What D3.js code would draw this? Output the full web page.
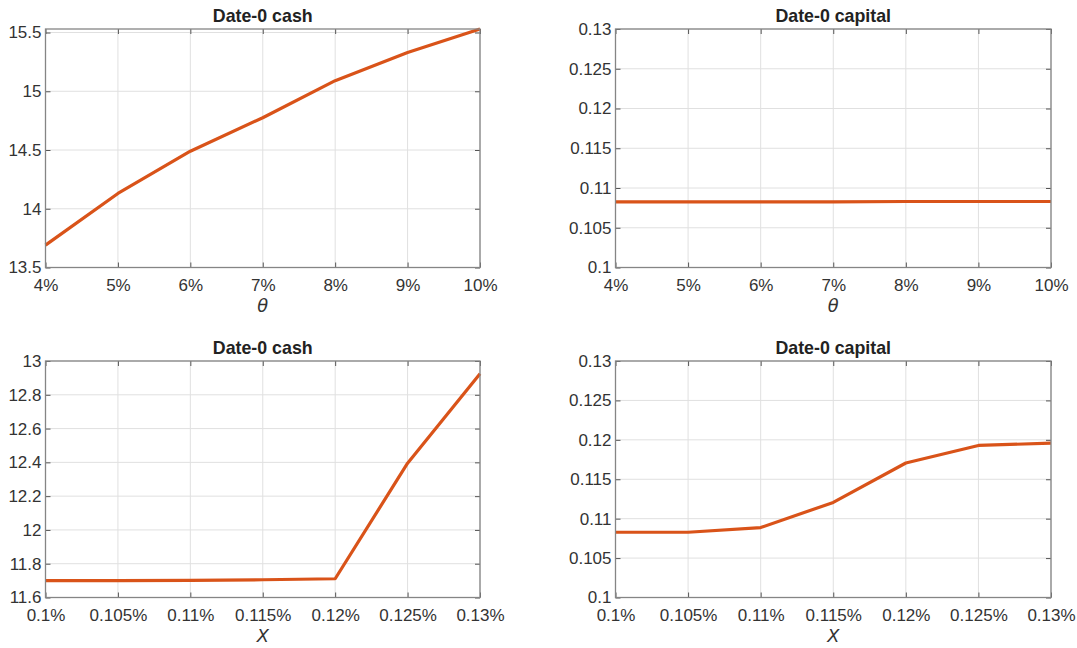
<!DOCTYPE html>
<html>
<head>
<meta charset="utf-8">
<script src="https://cdn.jsdelivr.net/npm/d3@7"></script>
<style>
  body { margin: 0; background: #ffffff; }
  svg { display: block; font-family: "Liberation Sans", Arial, Helvetica, sans-serif; }
</style>
</head>
<body>
<svg id="chart" width="1077" height="648"></svg>
<script>
// Sensitivity of date-0 cash and capital to theta and X
const thetaValues = [0.04, 0.05, 0.06, 0.07, 0.08, 0.09, 0.10];
const thetaTickLabels = ["4%", "5%", "6%", "7%", "8%", "9%", "10%"];
const xValues = [0.100, 0.105, 0.110, 0.115, 0.120, 0.125, 0.130];
const xTickLabels = ["0.1%", "0.105%", "0.11%", "0.115%", "0.12%", "0.125%", "0.13%"];

const cashVsTheta = [13.69, 14.13, 14.49, 14.775, 15.09, 15.33, 15.53];
const capitalVsTheta = [0.10825, 0.10825, 0.10825, 0.10825, 0.1083, 0.1083, 0.1083];
const cashVsX = [11.700, 11.700, 11.701, 11.705, 11.711, 12.395, 12.925];
const capitalVsX = [0.10828, 0.10828, 0.10887, 0.11206, 0.11706, 0.11929, 0.11958];

const cashThetaTicks = [13.5, 14, 14.5, 15, 15.5];
const capitalTicks = [0.1, 0.105, 0.11, 0.115, 0.12, 0.125, 0.13];
const cashXTicks = [11.6, 11.8, 12, 12.2, 12.4, 12.6, 12.8, 13];

const panels = [
  { title: "Date-0 cash", xLabel: "θ", xs: thetaValues, xTickText: thetaTickLabels,
    ys: cashVsTheta, yDomain: [13.5, 15.53], yTicks: cashThetaTicks,
    box: { left: 45.5, right: 480, top: 29, bottom: 267.5 } },
  { title: "Date-0 capital", xLabel: "θ", xs: thetaValues, xTickText: thetaTickLabels,
    ys: capitalVsTheta, yDomain: [0.1, 0.13], yTicks: capitalTicks,
    box: { left: 615.5, right: 1051, top: 29, bottom: 267.5 } },
  { title: "Date-0 cash", xLabel: "X", xs: xValues, xTickText: xTickLabels,
    ys: cashVsX, yDomain: [11.6, 13], yTicks: cashXTicks,
    box: { left: 45.5, right: 480, top: 361, bottom: 597.5 } },
  { title: "Date-0 capital", xLabel: "X", xs: xValues, xTickText: xTickLabels,
    ys: capitalVsX, yDomain: [0.1, 0.13], yTicks: capitalTicks,
    box: { left: 615.5, right: 1051, top: 361, bottom: 597.5 } }
];

const svg = d3.select("#chart");
const axisColor = "#858585";
const gridColor = "#e0e0e0";
const textColor = "#333333";
const lineColor = "#d95319";
const tickLen = 5;
const tickFont = 17;
const titleFont = 17.8;

panels.forEach(p => {
  const b = p.box;
  const x = d3.scaleLinear().domain(d3.extent(p.xs)).range([b.left, b.right]);
  const y = d3.scaleLinear().domain(p.yDomain).range([b.bottom, b.top]);
  const g = svg.append("g");

  // grid lines
  g.append("g").selectAll("line").data(p.xs).join("line")
    .attr("x1", d => x(d)).attr("x2", d => x(d))
    .attr("y1", b.top).attr("y2", b.bottom)
    .attr("stroke", gridColor).attr("stroke-width", 1);
  g.append("g").selectAll("line").data(p.yTicks).join("line")
    .attr("x1", b.left).attr("x2", b.right)
    .attr("y1", d => y(d)).attr("y2", d => y(d))
    .attr("stroke", gridColor).attr("stroke-width", 1);

  // bottom axis (ticks pointing inward)
  const xAxis = d3.axisBottom(x).tickValues(p.xs)
    .tickFormat((d, i) => p.xTickText[i]).tickSizeInner(-tickLen).tickSizeOuter(0).tickPadding(11);
  const gx = g.append("g").attr("transform", `translate(0,${b.bottom})`).call(xAxis);
  gx.select(".domain").remove();
  gx.selectAll(".tick line").attr("stroke", "#555");
  gx.selectAll(".tick text").attr("fill", textColor).attr("font-size", tickFont)
    .attr("font-family", "Liberation Sans, Arial, sans-serif");

  // top ticks
  const xTop = d3.axisTop(x).tickValues(p.xs).tickFormat("").tickSizeInner(-tickLen).tickSizeOuter(0);
  const gxt = g.append("g").attr("transform", `translate(0,${b.top})`).call(xTop);
  gxt.select(".domain").remove();
  gxt.selectAll(".tick line").attr("stroke", "#555");

  // left axis
  const yAxis = d3.axisLeft(y).tickValues(p.yTicks).tickFormat(d => String(d))
    .tickSizeInner(-tickLen).tickSizeOuter(0).tickPadding(4);
  const gy = g.append("g").attr("transform", `translate(${b.left},0)`).call(yAxis);
  gy.select(".domain").remove();
  gy.selectAll(".tick line").attr("stroke", "#555");
  gy.selectAll(".tick text").attr("fill", textColor).attr("font-size", tickFont)
    .attr("font-family", "Liberation Sans, Arial, sans-serif");

  // right ticks
  const yRight = d3.axisRight(y).tickValues(p.yTicks).tickFormat("").tickSizeInner(-tickLen).tickSizeOuter(0);
  const gyr = g.append("g").attr("transform", `translate(${b.right},0)`).call(yRight);
  gyr.select(".domain").remove();
  gyr.selectAll(".tick line").attr("stroke", "#555");

  // data line
  const line = d3.line().x((d, i) => x(p.xs[i])).y(d => y(d));
  g.append("path").datum(p.ys)
    .attr("d", line)
    .attr("fill", "none")
    .attr("stroke", lineColor)
    .attr("stroke-width", 3.2)
    .attr("stroke-linejoin", "round");

  // box
  g.append("rect")
    .attr("x", b.left).attr("y", b.top)
    .attr("width", b.right - b.left).attr("height", b.bottom - b.top)
    .attr("fill", "none").attr("stroke", axisColor).attr("stroke-width", 1.3);

  // title
  g.append("text")
    .attr("x", (b.left + b.right) / 2).attr("y", b.top - 7)
    .attr("text-anchor", "middle")
    .attr("font-size", titleFont).attr("font-weight", "bold").attr("fill", "#222")
    .text(p.title);

  // x label
  g.append("text")
    .attr("x", (b.left + b.right) / 2).attr("y", b.bottom + 44)
    .attr("text-anchor", "middle")
    .attr("font-size", titleFont).attr("font-style", "italic").attr("fill", textColor)
    .attr("font-family", "DejaVu Sans, sans-serif")
    .text(p.xLabel);
});
</script>
</body>
</html>
